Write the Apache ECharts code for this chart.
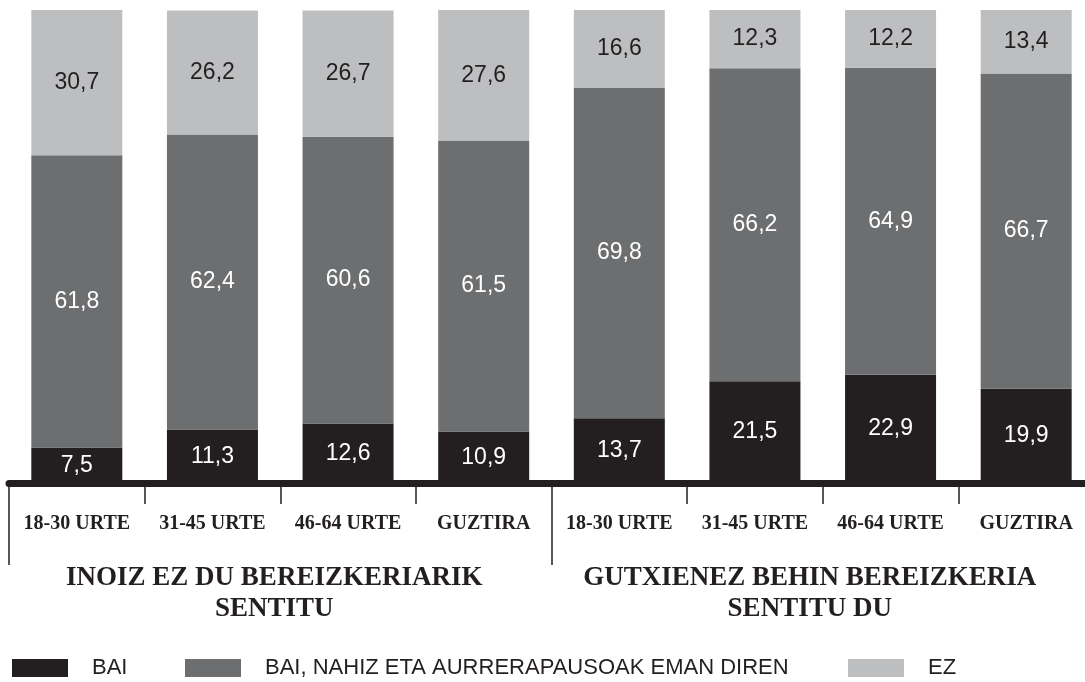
<!DOCTYPE html>
<html>
<head>
    <meta charset="utf-8">
    <title>Bereizkeria</title>
    <script src="https://cdn.jsdelivr.net/npm/echarts@6/dist/echarts.min.js"></script>
    <style>
        html, body { margin: 0; padding: 0; background: #fff; }
    </style>
</head>
<body>
<div id="main" style="width: 1085px;height:682px;"></div>
<script type="text/javascript">
    // datuak
    var ageGroups = ['18-30 URTE', '31-45 URTE', '46-64 URTE', 'GUZTIRA',
                     '18-30 URTE', '31-45 URTE', '46-64 URTE', 'GUZTIRA'];
    var groups = ['INOIZ EZ DU BEREIZKERIARIK\nSENTITU', 'GUTXIENEZ BEHIN BEREIZKERIA\nSENTITU DU'];
    var seriesNames = ['BAI', 'BAI, NAHIZ ETA AURRERAPAUSOAK EMAN DIREN', 'EZ'];
    var bai = [7.5, 11.3, 12.6, 10.9, 13.7, 21.5, 22.9, 19.9];
    var baiNahiz = [61.8, 62.4, 60.6, 61.5, 69.8, 66.2, 64.9, 66.7];
    var ez = [30.7, 26.2, 26.7, 27.6, 16.6, 12.3, 12.2, 13.4];

    var colors = ['#231f20', '#6d6e70', '#bcbec0'];
    var ink = '#231f20';

    var myChart = echarts.init(document.getElementById('main'));

    function fmt(p) {
        return p.value.toFixed(1).replace('.', ',');
    }

    function barSeries(name, data, color, labelColor) {
        return {
            name: name,
            type: 'bar',
            stack: 'total',
            barWidth: 91,
            data: data,
            itemStyle: { color: color },
            label: {
                show: true,
                position: 'inside',
                formatter: fmt,
                color: labelColor,
                fontFamily: 'Liberation Sans',
                fontSize: 23
            },
            emphasis: { disabled: true }
        };
    }

    function legendAt(left, name) {
        return {
            left: left,
            top: 657,
            padding: 0,
            itemWidth: 56,
            itemHeight: 18,
            icon: 'rect',
            data: [name],
            textStyle: {
                color: ink,
                fontFamily: 'Liberation Sans',
                fontSize: 22,
                lineHeight: 18,
                padding: [0, 0, 0, 19]
            }
        };
    }

    var option = {
        animation: false,
        color: colors,
        legend: [
            legendAt(12, seriesNames[0]),
            legendAt(185, seriesNames[1]),
            legendAt(848, seriesNames[2])
        ],
        grid: {
            left: 9,
            top: 10,
            width: 1085,
            height: 473,
            outerBoundsMode: 'none',
            containLabel: false
        },
        xAxis: [{
            type: 'category',
            data: ageGroups,
            position: 'bottom',
            axisLine: { show: true, lineStyle: { color: ink, width: 7 } },
            axisTick: { show: true, interval: 0, length: 21, lineStyle: { color: ink, width: 1.5 } },
            axisLabel: {
                interval: 0,
                margin: 31,
                color: ink,
                fontFamily: 'Liberation Serif',
                fontWeight: 'bold',
                fontSize: 20
            }
        }, {
            type: 'category',
            data: [
                { value: groups[0], textStyle: { padding: [0, 12, 0, 0] } },
                { value: groups[1], textStyle: { padding: [0, 26, 0, 0] } }
            ],
            position: 'bottom',
            axisLine: { show: false },
            axisTick: { show: true, interval: 0, length: 82, lineStyle: { color: ink, width: 1.5 } },
            axisLabel: {
                interval: 0,
                margin: 80,
                color: ink,
                fontFamily: 'Liberation Serif',
                fontWeight: 'bold',
                fontSize: 27,
                lineHeight: 31
            }
        }],
        yAxis: {
            type: 'value',
            min: 0,
            max: 100,
            show: false
        },
        series: [
            barSeries(seriesNames[0], bai, colors[0], '#ffffff'),
            barSeries(seriesNames[1], baiNahiz, colors[1], '#ffffff'),
            barSeries(seriesNames[2], ez, colors[2], ink)
        ]
    };

    myChart.setOption(option);
</script>
</body>
</html>
